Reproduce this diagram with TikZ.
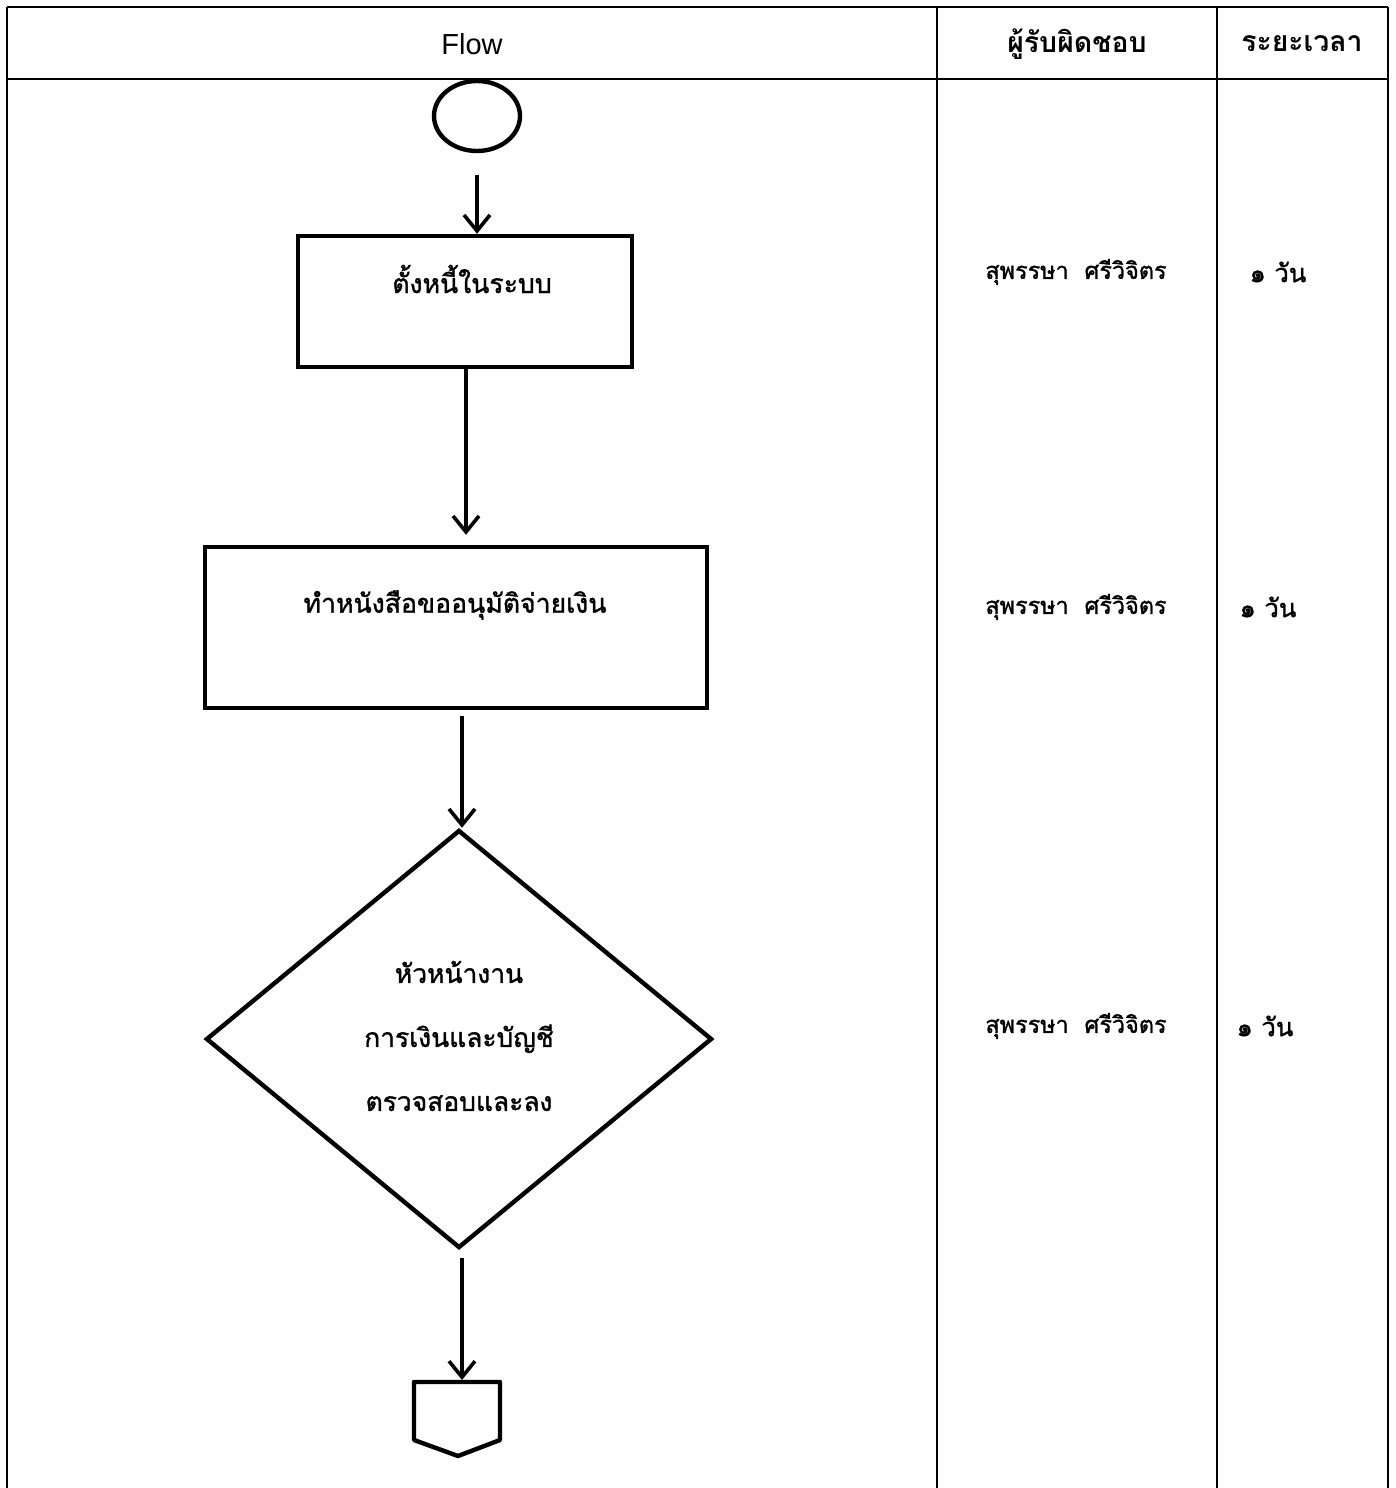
\documentclass[tikz,border=0pt]{standalone}
\usepackage{fontspec}
\setmainfont{Liberation Sans}
\newfontfamily\thaifont[Script=Thai,FakeBold=1.3]{Loma}
\newfontfamily\thaihead[Script=Thai]{Loma}
\usetikzlibrary{shapes.geometric,arrows.meta}
\tikzset{
  grid/.style={line width=1.1pt},
  procbox/.style={draw, line width=2.2pt, rectangle, inner sep=0pt},
  flowarrow/.style={line width=1.8pt, -{Straight Barb[length=8pt,width=13pt,line width=1.8pt]}},
  thtext/.style={font=\thaifont\fontsize{11.7}{16}\selectfont, inner sep=0pt},
  fltext/.style={font=\thaifont\fontsize{13.3}{16}\selectfont, inner sep=0pt},
  hdtext/.style={font=\thaihead\bfseries\fontsize{14.2}{16}\selectfont, inner sep=0pt},
}
\begin{document}
\begin{tikzpicture}[x=0.5pt,y=-0.5pt]
\useasboundingbox (0,0) rectangle (1396,1488);
% table
\coordinate (tl) at (7,7);
\coordinate (tr) at (1388,7);
\coordinate (hl) at (7,79);
\coordinate (hr) at (1388,79);
\coordinate (c1t) at (937,7);
\coordinate (c1b) at (937,1488);
\coordinate (c2t) at (1217,7);
\coordinate (c2b) at (1217,1488);
\coordinate (bl) at (7,1488);
\coordinate (br) at (1388,1488);
\draw[grid] (tl) -- (tr);
\draw[grid] (hl) -- (hr);
\draw[grid] (tl) -- (bl);
\draw[grid] (c1t) -- (c1b);
\draw[grid] (c2t) -- (c2b);
\draw[grid] (tr) -- (br);
% headers
\node[font=\fontsize{14.5}{16}\selectfont, inner sep=0pt] (hflow) at (472,44) {Flow};
\node[hdtext] (hresp) at (1077,44) {ผู้รับผิดชอบ};
\node[hdtext] (htime) at (1302,44) {ระยะเวลา};
% start
\node[draw, ellipse, line width=2.2pt, minimum width=43pt, minimum height=35pt, inner sep=0pt] (start) at (477,116) {};
% box 1
\node[procbox, minimum width=167pt, minimum height=65.5pt] (b1) at (465,301.5) {};
\node[fltext] (t1) at (472,279) {ตั้งหนี้ในระบบ};
% box 2
\node[procbox, minimum width=251pt, minimum height=80.5pt] (b2) at (456,627.5) {};
\node[fltext] (t2) at (455,605) {ทำหนังสือขออนุมัติจ่ายเงิน};
% diamond
\node[draw, diamond, line width=2.2pt, minimum width=253pt, minimum height=209pt, inner sep=0pt] (d1) at (459,1039) {};
\node[align=center, inner sep=0pt, font=\thaifont\fontsize{13.2}{32}\selectfont] (d1t) at (459,1036)
      {หัวหน้างาน\\การเงินและบัญชี\\ตรวจสอบและลง};
% off-page connector
\coordinate (conn) at (458,1382);
\draw[line width=2.2pt, line join=round] (414,1382) -- (500,1382) -- (500,1440) -- (458,1456) -- (414,1440) -- cycle;
% arrows
\draw[flowarrow, shorten <=11pt] (start.south) -- (start.south |- b1.north);
\draw[flowarrow, shorten >=5pt] ([xshift=0.5pt]b1.south) -- ([xshift=0.5pt]b1.south |- b2.north);
\draw[flowarrow, shorten <=3pt] ([xshift=1.5pt]d1.north |- b2.south) -- ([xshift=1.5pt]d1.north);
\draw[flowarrow, shorten <=4pt, shorten >=1pt] ([xshift=1.5pt]d1.south) -- ([xshift=1.5pt]d1.south |- conn);
% responsible & time
\node[thtext] (r1) at (1076,272) {สุพรรษา\ \ ศรีวิจิตร};
\node[thtext, font=\thaifont\fontsize{12.8}{16}\selectfont] (p1) at (1278,272) {๑ วัน};
\node[thtext] (r2) at (1076,607) {สุพรรษา\ \ ศรีวิจิตร};
\node[thtext, font=\thaifont\fontsize{12.8}{16}\selectfont] (p2) at (1268,607) {๑ วัน};
\node[thtext] (r3) at (1076,1026) {สุพรรษา\ \ ศรีวิจิตร};
\node[thtext, font=\thaifont\fontsize{12.8}{16}\selectfont] (p3) at (1265,1026) {๑ วัน};
\end{tikzpicture}
\end{document}
